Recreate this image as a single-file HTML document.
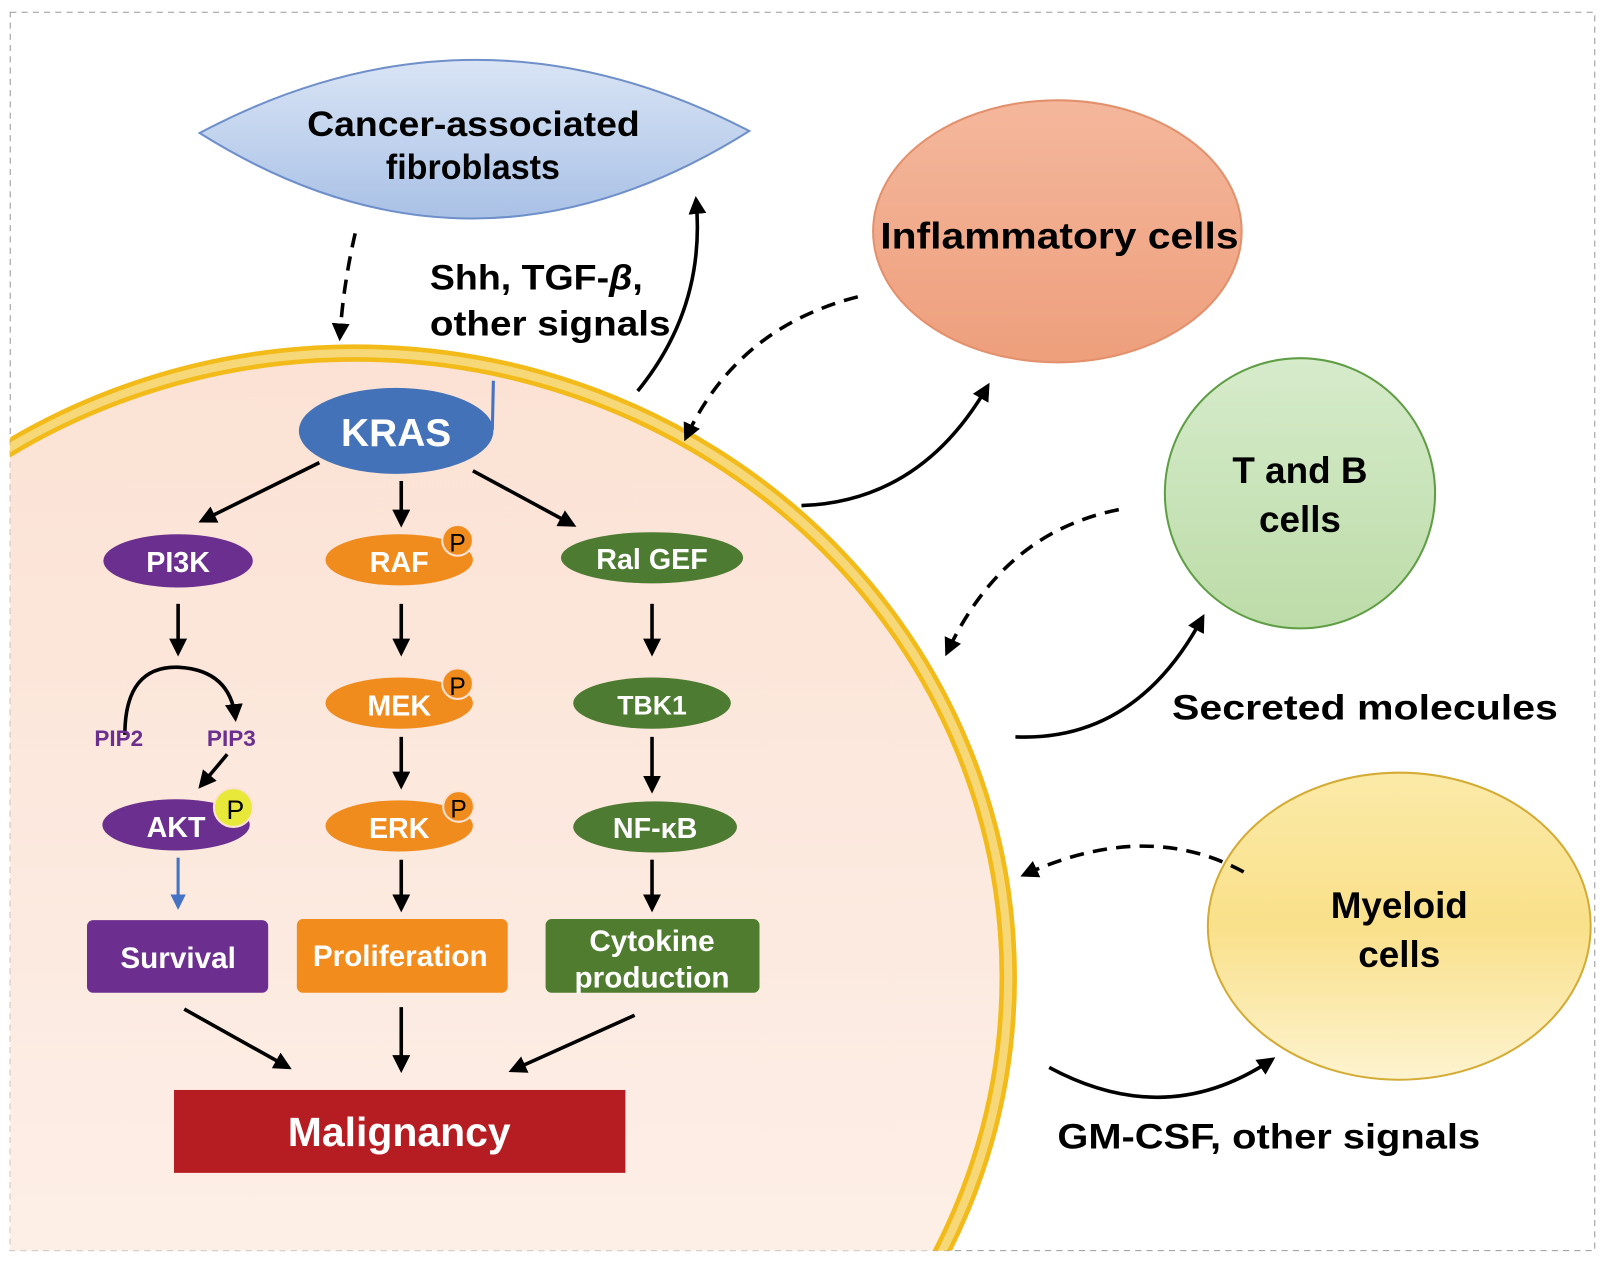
<!DOCTYPE html>
<html><head><meta charset="utf-8"><style>
html,body{margin:0;padding:0;background:#fff;overflow:hidden;width:1605px;height:1266px;}
svg{display:block;}
text{font-family:"Liberation Sans",sans-serif;font-weight:bold;}
</style></head><body>
<svg width="1605" height="1266" viewBox="0 0 1568 1237" preserveAspectRatio="none" xmlns="http://www.w3.org/2000/svg">
<defs>
<marker id="ah" viewBox="0 0 10 10" refX="8" refY="5" markerWidth="5" markerHeight="5" orient="auto-start-reverse"><path d="M0,0 L10,5 L0,10 z" fill="#000"/></marker>
<marker id="ahb" viewBox="0 0 10 10" refX="8" refY="5" markerWidth="5" markerHeight="5" orient="auto"><path d="M0,0 L10,5 L0,10 z" fill="#4472c4"/></marker>
<linearGradient id="cell" x1="0" y1="0" x2="0" y2="1"><stop offset="0" stop-color="#fbe2d4"/><stop offset="0.7" stop-color="#fdeee6"/><stop offset="1" stop-color="#fff6f1"/></linearGradient>
<linearGradient id="fib" x1="0" y1="0" x2="0" y2="1"><stop offset="0" stop-color="#d9e4f5"/><stop offset="1" stop-color="#a9c1e6"/></linearGradient>
<linearGradient id="inf" x1="0" y1="0" x2="0" y2="1"><stop offset="0" stop-color="#f4b79c"/><stop offset="1" stop-color="#ee9f7c"/></linearGradient>
<linearGradient id="tb" x1="0" y1="0" x2="0" y2="1"><stop offset="0" stop-color="#d6ebcb"/><stop offset="1" stop-color="#bcdca8"/></linearGradient>
<linearGradient id="my" x1="0" y1="0" x2="0" y2="1"><stop offset="0" stop-color="#fbeaa8"/><stop offset="0.5" stop-color="#f9e08a"/><stop offset="1" stop-color="#fdf3cf"/></linearGradient>
<clipPath id="cb"><rect x="10" y="12" width="1548" height="1210"/></clipPath>
</defs>
<rect x="10" y="12" width="1548" height="1210" fill="none" stroke="#999" stroke-width="1" stroke-dasharray="6,5"/>
<g clip-path="url(#cb)">
<ellipse cx="347" cy="955" rx="638" ry="610" fill="url(#cell)" stroke="#f2bb1a" stroke-width="17"/>
<ellipse cx="347" cy="955" rx="638" ry="610" fill="none" stroke="#f7d878" stroke-width="8"/>
</g>
<path d="M195,130 Q462,-12 732,128 Q462,298 195,130 z" fill="url(#fib)" stroke="#6e8fc9" stroke-width="2"/>
<text x="300" y="133" font-size="34" textLength="325" lengthAdjust="spacingAndGlyphs">Cancer-associated</text>
<text x="377" y="175" font-size="34" textLength="170" lengthAdjust="spacingAndGlyphs">fibroblasts</text>
<ellipse cx="1033" cy="226" rx="180" ry="128" fill="url(#inf)" stroke="#e3906c" stroke-width="2"/>
<text x="860" y="243" font-size="36" textLength="350" lengthAdjust="spacingAndGlyphs">Inflammatory cells</text>
<circle cx="1270" cy="482" r="132" fill="url(#tb)" stroke="#5f9e45" stroke-width="2"/>
<text x="1270" y="472" font-size="36" text-anchor="middle">T and B</text>
<text x="1270" y="520" font-size="36" text-anchor="middle">cells</text>
<ellipse cx="1367" cy="905" rx="187" ry="150" fill="url(#my)" stroke="#d4ac35" stroke-width="2"/>
<text x="1367" y="897" font-size="36" text-anchor="middle">Myeloid</text>
<text x="1367" y="945" font-size="36" text-anchor="middle">cells</text>
<text x="420" y="283" font-size="34" textLength="208" lengthAdjust="spacingAndGlyphs">Shh, TGF-<tspan font-style="italic">β</tspan>,</text>
<text x="420" y="328" font-size="34" textLength="235" lengthAdjust="spacingAndGlyphs">other signals</text>
<text x="1145" y="703" font-size="34" textLength="377" lengthAdjust="spacingAndGlyphs">Secreted molecules</text>
<text x="1033" y="1122" font-size="34" textLength="413" lengthAdjust="spacingAndGlyphs">GM-CSF, other signals</text>
<g fill="none" stroke="#000" stroke-width="3.5">
<path d="M347,228 Q335,280 332,330" stroke-dasharray="14,9" marker-end="url(#ah)"/>
<path d="M623,382 Q690,300 680,195" marker-end="url(#ah)"/>
<path d="M838,290 Q720,320 670,428" stroke-dasharray="14,9" marker-end="url(#ah)"/>
<path d="M783,494 Q900,490 965,377" marker-end="url(#ah)"/>
<path d="M1093,498 Q980,520 925,638" stroke-dasharray="14,9" marker-end="url(#ah)"/>
<path d="M992,720 Q1110,725 1175,603" marker-end="url(#ah)"/>
<path d="M1215,852 Q1120,800 1000,855" stroke-dasharray="14,9" marker-end="url(#ah)"/>
<path d="M1025,1043 Q1140,1105 1243,1035" marker-end="url(#ah)"/>
</g>
<ellipse cx="387" cy="421" rx="95" ry="42" fill="#4472b8"/>
<path d="M482,372 L481,420" stroke="#4472c4" stroke-width="3"/>
<text x="387" y="436" font-size="38" fill="#fff" text-anchor="middle">KRAS</text>
<g stroke="#000" stroke-width="3.5" fill="none">
<line x1="312" y1="452" x2="197" y2="509" marker-end="url(#ah)"/>
<line x1="392" y1="470" x2="392" y2="512" marker-end="url(#ah)"/>
<line x1="462" y1="460" x2="560" y2="513" marker-end="url(#ah)"/>
<line x1="174" y1="590" x2="174" y2="638" marker-end="url(#ah)"/>
<line x1="392" y1="590" x2="392" y2="638" marker-end="url(#ah)"/>
<line x1="637" y1="590" x2="637" y2="638" marker-end="url(#ah)"/>
<line x1="392" y1="720" x2="392" y2="768" marker-end="url(#ah)"/>
<line x1="637" y1="720" x2="637" y2="772" marker-end="url(#ah)"/>
<line x1="392" y1="840" x2="392" y2="888" marker-end="url(#ah)"/>
<line x1="637" y1="840" x2="637" y2="888" marker-end="url(#ah)"/>
<path d="M122,718 Q122,650 175,652 Q225,655 230,702" marker-end="url(#ah)"/>
<line x1="222" y1="737" x2="196" y2="768" marker-end="url(#ah)"/>
<line x1="180" y1="986" x2="282" y2="1043" marker-end="url(#ah)"/>
<line x1="392" y1="984" x2="392" y2="1045" marker-end="url(#ah)"/>
<line x1="620" y1="992" x2="500" y2="1046" marker-end="url(#ah)"/>
</g>
<line x1="174" y1="838" x2="174" y2="886" stroke="#4472c4" stroke-width="3" marker-end="url(#ahb)"/>
<ellipse cx="174" cy="548" rx="73" ry="26" fill="#6a2f8f"/><text x="174" y="559" font-size="28" fill="#fff" text-anchor="middle">PI3K</text>
<ellipse cx="390" cy="547" rx="72" ry="25" fill="#f08c1e"/><text x="390" y="559" font-size="28" fill="#fff" text-anchor="middle">RAF</text>
<circle cx="447" cy="528" r="15" fill="#f08c1e" stroke="#fbe2d4" stroke-width="2"/><text x="447" y="539" font-size="24" style="font-weight:normal" text-anchor="middle">P</text>
<ellipse cx="637" cy="545" rx="89" ry="25" fill="#4e7b32"/><text x="637" y="556" font-size="28" fill="#fff" text-anchor="middle">Ral GEF</text>
<ellipse cx="390" cy="687" rx="72" ry="25" fill="#f08c1e"/><text x="390" y="699" font-size="28" fill="#fff" text-anchor="middle">MEK</text>
<circle cx="447" cy="668" r="15" fill="#f08c1e" stroke="#fbe2d4" stroke-width="2"/><text x="447" y="679" font-size="24" style="font-weight:normal" text-anchor="middle">P</text>
<ellipse cx="637" cy="687" rx="77" ry="25" fill="#4e7b32"/><text x="637" y="698" font-size="26" fill="#fff" text-anchor="middle">TBK1</text>
<text x="116" y="729" font-size="22" fill="#6a2f8f" text-anchor="middle">PIP2</text>
<text x="226" y="729" font-size="22" fill="#6a2f8f" text-anchor="middle">PIP3</text>
<ellipse cx="172" cy="806" rx="72" ry="25" fill="#6a2f8f"/><text x="172" y="818" font-size="28" fill="#fff" text-anchor="middle">AKT</text>
<circle cx="228" cy="789" r="19" fill="#e8e83a" stroke="#fbe2d4" stroke-width="2"/><text x="230" y="800" font-size="26" style="font-weight:normal" text-anchor="middle">P</text>
<ellipse cx="390" cy="807" rx="72" ry="25" fill="#f08c1e"/><text x="390" y="819" font-size="28" fill="#fff" text-anchor="middle">ERK</text>
<circle cx="448" cy="788" r="15" fill="#f08c1e" stroke="#fbe2d4" stroke-width="2"/><text x="448" y="799" font-size="24" style="font-weight:normal" text-anchor="middle">P</text>
<ellipse cx="640" cy="808" rx="80" ry="25" fill="#4e7b32"/><text x="640" y="819" font-size="28" fill="#fff" text-anchor="middle">NF-κB</text>
<rect x="85" y="899" width="177" height="71" rx="6" fill="#6d2f8f"/><text x="174" y="946" font-size="29" fill="#fff" text-anchor="middle">Survival</text>
<rect x="290" y="898" width="206" height="72" rx="6" fill="#f28c1c"/><text x="391" y="944" font-size="29" fill="#fff" text-anchor="middle">Proliferation</text>
<rect x="533" y="898" width="209" height="72" rx="6" fill="#4f7c2f"/><text x="637" y="929" font-size="29" fill="#fff" text-anchor="middle">Cytokine</text><text x="637" y="965" font-size="29" fill="#fff" text-anchor="middle">production</text>
<rect x="170" y="1065" width="441" height="81" fill="#b51d23"/><text x="390" y="1120" font-size="40" fill="#fff" text-anchor="middle">Malignancy</text>
</svg>
</body></html>
